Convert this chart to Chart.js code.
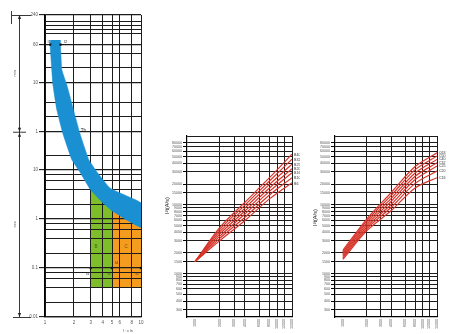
<!DOCTYPE html>
<html>
<head>
<meta charset="utf-8">
<title>Tripping and let-through energy characteristics</title>
<script src="https://cdn.jsdelivr.net/npm/chart.js@4.4.1/dist/chart.umd.min.js"></script>
<style>
  html, body { margin: 0; padding: 0; background: #fff; }
  #sheet { position: relative; width: 450px; height: 334px; overflow: hidden; background: #fff; }
  #sheet canvas { position: absolute; top: 0; }
</style>
</head>
<body>
<div id="sheet">
  <canvas id="tripGrid" width="150" height="334" style="left:0"></canvas>
  <canvas id="tripBand" width="150" height="334" style="left:0"></canvas>
  <canvas id="energyB" width="150" height="334" style="left:150px"></canvas>
  <canvas id="energyC" width="150" height="334" style="left:300px"></canvas>
</div>
<script>
const FONT = '"Liberation Sans", Arial, sans-serif';
Chart.defaults.font.family = FONT;

// ---------- time-current characteristic (multiple of In vs time in s) ----------
const multipleTicks = [1, 2, 3, 4, 5, 6, 8, 10];
const timeGrid = [0.01, 0.02, 0.04, 0.06, 0.08, 0.1, 0.2, 0.4, 0.6, 0.8, 1, 2, 4, 6, 8, 10, 20,
                  60, 120, 240, 600, 1200, 2400, 3600, 6000, 7200, 9000, 10800, 14400];
const timeLabelValues = [0.01, 0.1, 1, 10, 60, 600, 3600, 14400];
const timeLabelTexts  = ['0.01', '0.1', '1', '10', '1', '10', '60', '240'];

// thermal release band: lower (non-tripping) edge, then upper (tripping) edge
const thermalLowX  = [1.14, 1.13, 1.15, 1.21, 1.33, 1.54, 1.91, 2.31, 2.94, 3.74, 4.87, 6.8, 10];
const thermalLowT  = [4450, 3600, 2100, 540, 166, 54, 15.9, 9.05, 4.07, 2.43, 1.52, 1.0, 0.68];
const thermalHighX = [10, 7.15, 4.75, 3.48, 2.87, 2.32, 1.69, 1.50, 1.45, 1.45];
const thermalHighT = [2.11, 2.93, 4.27, 9.05, 15.9, 54, 538, 1090, 3600, 4450];

// magnetic release zones B (3-5 In) and C (5-10 In)
const zoneBX = [3, 3, 3.74, 5, 5];
const zoneBT = [0.04, 4.3, 2.6, 1.62, 0.04];
const zoneCX = [5, 5, 6.8, 10, 10];
const zoneCT = [0.04, 1.62, 1.07, 0.74, 0.04];

// conventional currents
const convX = [1.13, 1.45];
const convT = [3600, 3600];
const instX = [3, 5, 10];
const instT = [0.1, 0.1, 0.1];

// ---------- let-through energy I²t vs prospective current ----------
const currentTicks = [1000, 2000, 3000, 4000, 6000, 8000, 10000, 12000, 15000];
const energyGrid = [300, 400, 500, 600, 700, 800, 900, 1000, 1500, 2000, 3000, 4000, 5000, 6000, 7000,
                    8000, 9000, 10000, 15000, 20000, 30000, 40000, 50000, 60000, 70000, 80000, 100000];
const pointCurrents = [1000, 2000, 4000, 8000, 15000];

const ratingsB = ['B40', 'B32', 'B25', 'B20', 'B16', 'B10', 'B6'];
const energyB40 = [1500, 4700, 10800, 24800, 54500];
const energyB32 = [1500, 4390, 9830, 22200, 46100];
const energyB25 = [1500, 4080, 8900, 19800, 39000];
const energyB20 = [1500, 3790, 8060, 17600, 33400];
const energyB16 = [1500, 3510, 7300, 15700, 29300];
const energyB10 = [1500, 3260, 6540, 13900, 24800];
const energyB6  = [1500, 3020, 5880, 12200, 21000];

const ratingsC = ['C63', 'C50', 'C40', 'C32', 'C25', 'C20', 'C16'];
const energyC63 = [2170, 6280, 15000, 36000, 56900];
const energyC50 = [2060, 5880, 13600, 32500, 51000];
const energyC40 = [1960, 5500, 12300, 29000, 45700];
const energyC32 = [1870, 5150, 11200, 26000, 40800];
const energyC25 = [1780, 4810, 10100, 23300, 36500];
const energyC20 = [1690, 4500, 9140, 20500, 31000];
const energyC16 = [1610, 4220, 8190, 17600, 24800];

const pairs = (xs, ys) => xs.map((x, i) => ({ x, y: ys[i] }));
const clear = 'rgba(0,0,0,0)';

// ---------- drawing helpers ----------
function arrowHead(ctx, x, y, dir) {
  ctx.beginPath();
  ctx.moveTo(x, y);
  ctx.lineTo(x - 1.6, y - 4 * dir);
  ctx.lineTo(x + 1.6, y - 4 * dir);
  ctx.closePath();
  ctx.fill();
}
function text(ctx, str, x, y, size, color, align, rot) {
  ctx.save();
  ctx.translate(x, y);
  if (rot) ctx.rotate(rot);
  ctx.font = size + 'px ' + FONT;
  ctx.fillStyle = color;
  ctx.textAlign = align || 'center';
  ctx.textBaseline = 'middle';
  ctx.fillText(str, 0, 0);
  ctx.restore();
}

// dimension line and axis captions of the time-current chart
const tripFrame = {
  id: 'tripFrame',
  afterDraw(chart) {
    const ctx = chart.ctx, y = chart.scales.y, area = chart.chartArea;
    const yTop = y.getPixelForValue(14400), yMin = y.getPixelForValue(60), yBot = y.getPixelForValue(0.01);
    ctx.save();
    ctx.strokeStyle = '#222';
    ctx.fillStyle = '#222';
    ctx.lineWidth = 0.9;
    ctx.beginPath();
    ctx.moveTo(19.5, yTop); ctx.lineTo(19.5, yBot);
    ctx.moveTo(12, yTop + 0.5); ctx.lineTo(31, yTop + 0.5);
    ctx.moveTo(13, yMin + 0.5); ctx.lineTo(26, yMin + 0.5);
    ctx.moveTo(13, yBot + 0.5); ctx.lineTo(31, yBot + 0.5);
    ctx.moveTo(11.5, yTop - 4); ctx.lineTo(11.5, yTop + 9);
    ctx.stroke();
    arrowHead(ctx, 19.5, yTop, -1);
    arrowHead(ctx, 19.5, yMin, 1);
    arrowHead(ctx, 19.5, yMin + 1, -1);
    arrowHead(ctx, 19.5, yBot, 1);
    text(ctx, 'min', 15, (yTop + yMin) / 2, 4, '#555', 'center', -Math.PI / 2);
    text(ctx, 'sec', 15, (yMin + yBot) / 2, 4, '#555', 'center', -Math.PI / 2);
    text(ctx, 'I : x In', area.right - 13, 331, 3.5, '#444', 'center');
    ctx.restore();
  }
};

// markers and captions drawn above the thermal band
const tripNotes = {
  id: 'tripNotes',
  afterDraw(chart) {
    const ctx = chart.ctx, x = chart.scales.x, y = chart.scales.y;
    ctx.save();
    ctx.fillStyle = '#111';
    convX.forEach((v, i) => {
      ctx.fillRect(x.getPixelForValue(v) - 1, y.getPixelForValue(convT[i]) - 1, 2.2, 2.2);
    });
    instX.forEach((v, i) => {
      ctx.fillRect(x.getPixelForValue(v) - 1.2, y.getPixelForValue(instT[i]) - 1, 2.2, 2.2);
    });
    const y1h = y.getPixelForValue(3600), y01 = y.getPixelForValue(0.1);
    text(ctx, 'I1', x.getPixelForValue(1.13) - 1, y1h - 2.5, 4, '#333', 'center');
    text(ctx, 'I2', x.getPixelForValue(1.45) + 5, y1h - 2.5, 4, '#333', 'center');
    text(ctx, 'Th', x.getPixelForValue(2.3) + 1, y.getPixelForValue(62), 4.5, '#222', 'left');
    text(ctx, 'B', x.getPixelForValue(3.4), y.getPixelForValue(0.27), 4.5, '#3f6312', 'center');
    text(ctx, 'C', x.getPixelForValue(7.0), y.getPixelForValue(0.27), 4.5, '#8a4f08', 'center');
    text(ctx, 'I4', x.getPixelForValue(3) - 3, y01 + 5.5, 3.8, '#333', 'center');
    text(ctx, 'I5', x.getPixelForValue(5) - 3, y01 + 5.5, 3.8, '#333', 'center');
    text(ctx, 'I4', x.getPixelForValue(5) + 4.5, y01 - 5, 3.8, '#5a3606', 'center');
    text(ctx, 'I5', x.getPixelForValue(10) - 4, y01 + 5.5, 3.8, '#333', 'center');
    ctx.restore();
  }
};

// grid, axes and magnetic zones (grid drawn over the zones)
new Chart(document.getElementById('tripGrid'), {
  type: 'scatter',
  data: {
    datasets: [
      { data: pairs(zoneBX, zoneBT), showLine: true, fill: 'shape', backgroundColor: '#7fbe2b',
        borderWidth: 0, pointRadius: 0, tension: 0 },
      { data: pairs(zoneCX, zoneCT), showLine: true, fill: 'shape', backgroundColor: '#f39c1f',
        borderWidth: 0, pointRadius: 0, tension: 0 }
    ]
  },
  options: {
    responsive: false, animation: false, events: [],
    layout: { padding: { top: 15, right: 9, left: 0, bottom: 0 } },
    plugins: { legend: { display: false }, tooltip: { enabled: false } },
    scales: {
      x: {
        type: 'logarithmic', min: 1, max: 10,
        afterBuildTicks: s => { s.ticks = multipleTicks.map(v => ({ value: v })); },
        afterFit: s => { s.height = 17; },
        grid: { z: 1, color: '#1c1c1c', lineWidth: 1, drawTicks: false },
        border: { z: 1, color: '#000', width: 1.2 },
        ticks: { autoSkip: false, maxRotation: 0, padding: 3, color: '#555', font: { size: 4.5 },
                 callback: v => String(v) }
      },
      y: {
        type: 'logarithmic', min: 0.01, max: 14400,
        afterBuildTicks: s => { s.ticks = timeGrid.map(v => ({ value: v })); },
        afterFit: s => { s.width = 45; },
        grid: {
          z: 1, drawTicks: true, tickLength: 6, color: '#1c1c1c',
          lineWidth: c => (c.tick && timeLabelValues.includes(c.tick.value)) ? 1.3 : 1,
          tickColor: c => (c.tick && timeLabelValues.includes(c.tick.value)) ? '#000' : clear,
          tickWidth: 1
        },
        border: { z: 1, color: '#000', width: 1.2 },
        ticks: {
          autoSkip: false, padding: 1, color: '#555', font: { size: 4.5 },
          callback: v => { const i = timeLabelValues.indexOf(v); return i >= 0 ? timeLabelTexts[i] : ''; }
        }
      }
    }
  },
  plugins: [tripFrame]
});

// thermal release band, laid over the grid
new Chart(document.getElementById('tripBand'), {
  type: 'scatter',
  data: {
    datasets: [
      { data: pairs(thermalLowX.concat(thermalHighX), thermalLowT.concat(thermalHighT)),
        showLine: true, fill: 'shape', backgroundColor: '#1a8fd2', borderColor: '#1a8fd2',
        borderWidth: 0.5, pointRadius: 0, tension: 0.12 }
    ]
  },
  options: {
    responsive: false, animation: false, events: [],
    layout: { padding: { top: 15, right: 9, left: 45, bottom: 17 } },
    plugins: { legend: { display: false }, tooltip: { enabled: false } },
    scales: {
      x: { type: 'logarithmic', min: 1, max: 10, display: false },
      y: { type: 'logarithmic', min: 0.01, max: 14400, display: false }
    }
  },
  plugins: [tripNotes]
});

// ---------- I²t charts ----------
const energyNotes = {
  id: 'energyNotes',
  afterDraw(chart, args, opts) {
    const ctx = chart.ctx, area = chart.chartArea;
    chart.data.datasets.forEach((ds, i) => {
      const pts = chart.getDatasetMeta(i).data;
      const last = pts[pts.length - 1];
      text(ctx, ds.label, area.right + 2, last.y + (opts.labelShift[i] || 0), 3.6, '#333', 'left');
    });
    text(ctx, 'I²t(A²s)', area.left - 20, (area.top + area.bottom) / 2 + opts.titleShift,
         5.5, '#222', 'center', -Math.PI / 2);
  }
};

function energyChart(id, ratings, series, padRight, axisWidth, titleShift, labelShift) {
  return new Chart(document.getElementById(id), {
    type: 'scatter',
    data: {
      datasets: series.map((vals, i) => ({
        label: ratings[i],
        data: pairs(pointCurrents, vals),
        showLine: true, fill: false, borderColor: '#d8352b', borderWidth: 1.2,
        pointRadius: 0, tension: 0.3
      }))
    },
    options: {
      responsive: false, animation: false, events: [],
      layout: { padding: { top: 136, right: padRight, left: 0, bottom: 0 } },
      plugins: { legend: { display: false }, tooltip: { enabled: false },
                 energyNotes: { titleShift, labelShift } },
      scales: {
        x: {
          type: 'logarithmic', min: 800, max: 15000,
          afterBuildTicks: s => { s.ticks = currentTicks.map(v => ({ value: v })); },
          afterFit: s => { s.height = 17; },
          grid: { color: c => (c.tick && c.tick.value === 1000) ? clear : '#1c1c1c', lineWidth: 1, drawTicks: false },
          border: { color: '#000', width: 1.2 },
          ticks: { autoSkip: false, minRotation: 90, maxRotation: 90, padding: 2, color: '#555',
                   font: { size: 3.6 }, callback: v => String(v) }
        },
        y: {
          type: 'logarithmic', min: 235, max: 100000,
          afterBuildTicks: s => { s.ticks = energyGrid.map(v => ({ value: v })); },
          afterFit: s => { s.width = axisWidth; },
          grid: { color: '#1c1c1c', lineWidth: 1, drawTicks: true, tickLength: 4,
                  tickColor: c => (c.tick && c.tick.value < 100000) ? '#000' : clear },
          border: { color: '#000', width: 1.2 },
          ticks: { autoSkip: false, padding: 1, color: '#555', font: { size: 3.6 },
                   callback: v => v < 100000 ? String(v) : '' }
        }
      }
    },
    plugins: [energyNotes]
  });
}

energyChart('energyB', ratingsB,
  [energyB40, energyB32, energyB25, energyB20, energyB16, energyB10, energyB6],
  8, 37, -21, [0.5, 1, 1, 0, 0, 0, 1.5]);
energyChart('energyC', ratingsC,
  [energyC63, energyC50, energyC40, energyC32, energyC25, energyC20, energyC16],
  13, 35, -9, [0, 0, 0, 0, 0, 0, 0]);
</script>
</body>
</html>
